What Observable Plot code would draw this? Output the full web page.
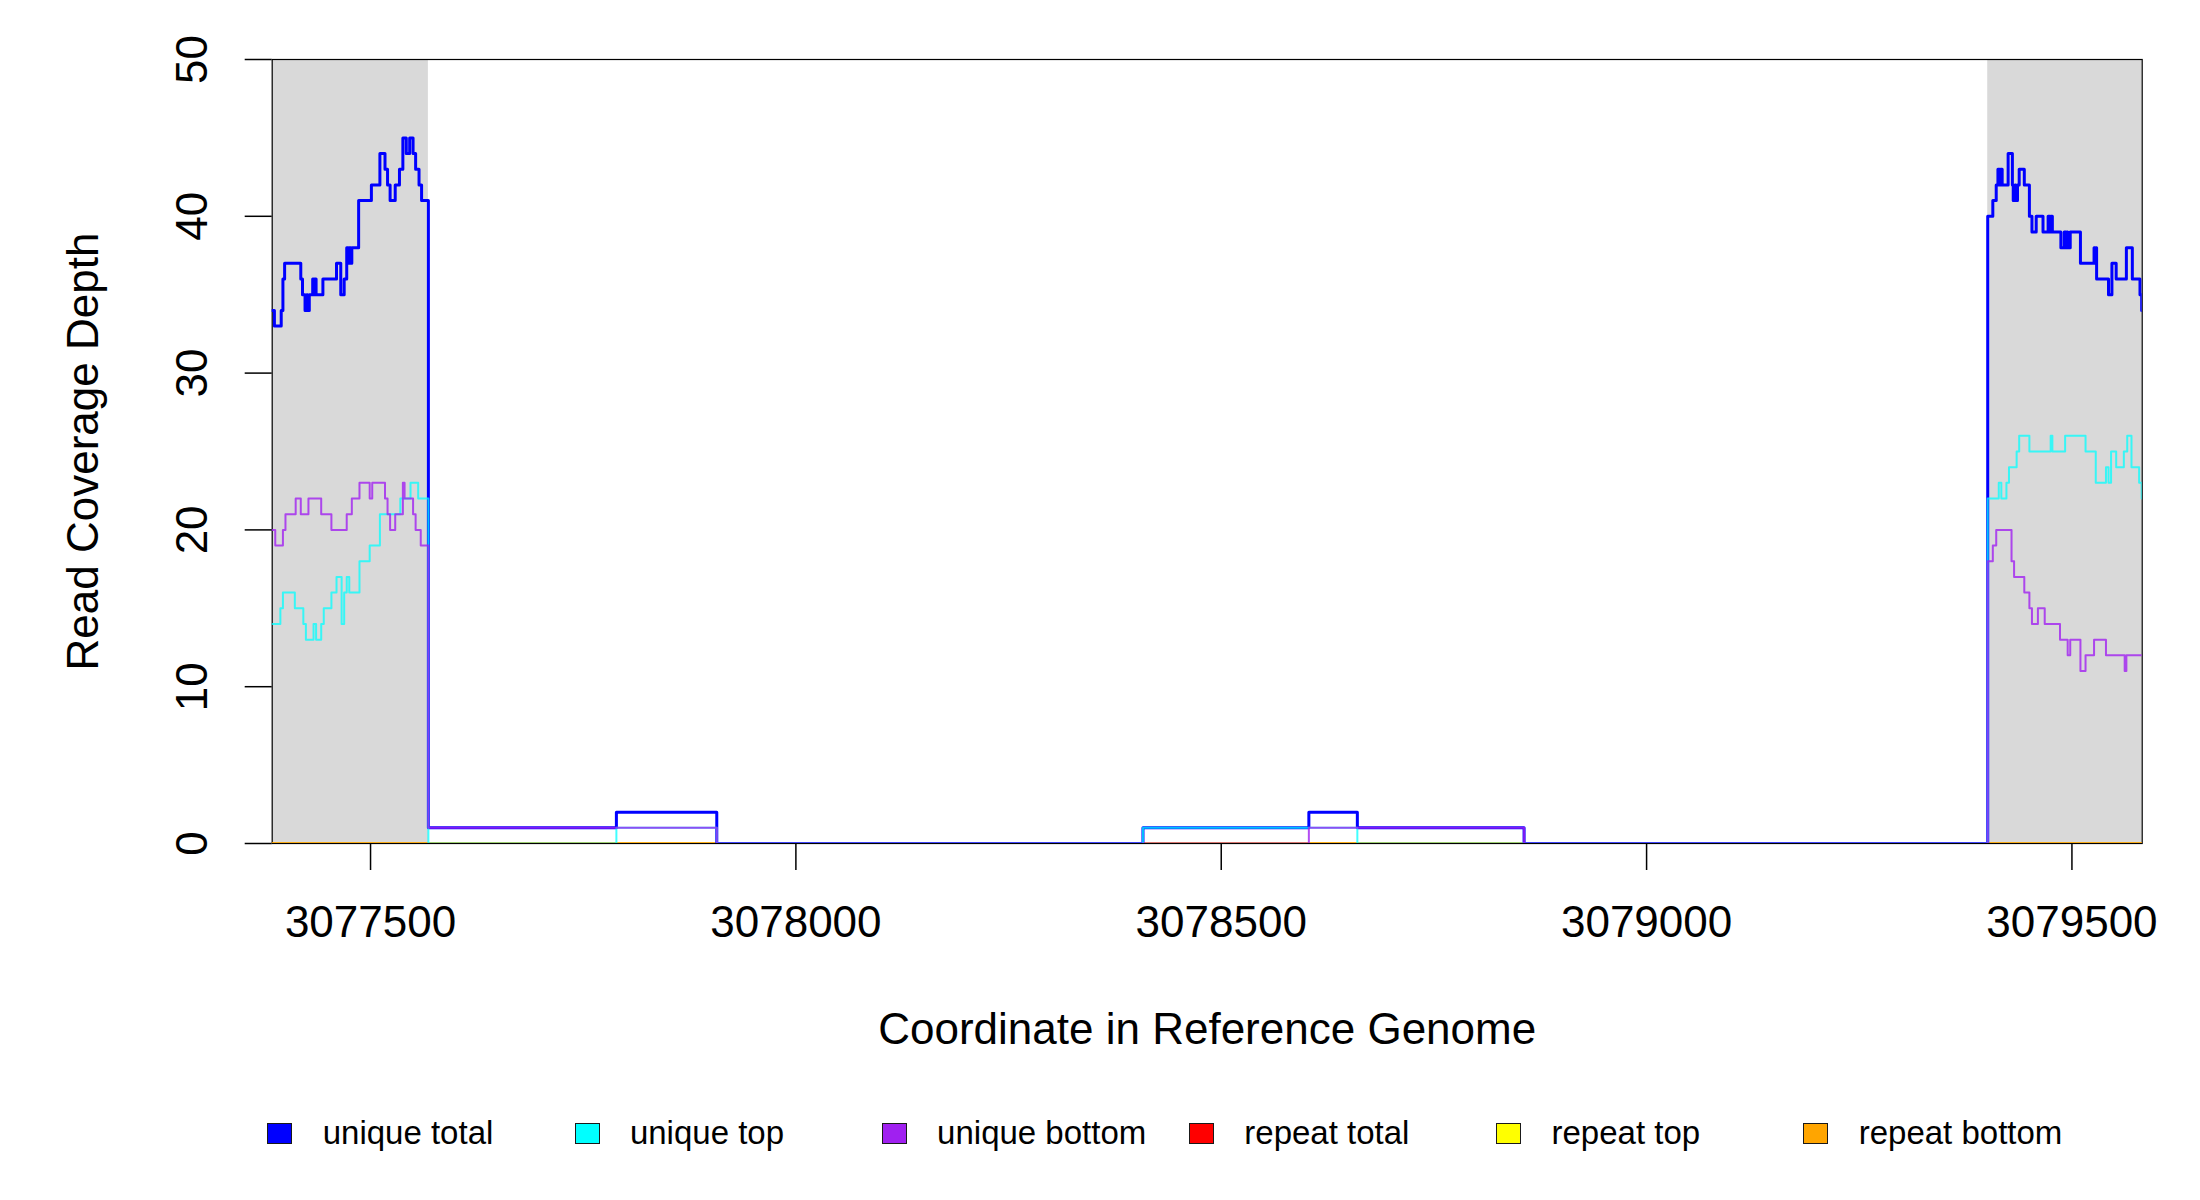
<!DOCTYPE html>
<html><head><meta charset="utf-8">
<script src="https://cdn.jsdelivr.net/npm/d3@7"></script>
<script src="https://cdn.jsdelivr.net/npm/@observablehq/plot@0.6"></script>
<style>
body{margin:0;background:#fff;font-family:"Liberation Sans",Arial,sans-serif;}
#wrap{position:relative;width:2200px;height:1200px;background:#fff;}
.lg-sw{position:absolute;box-sizing:border-box;width:25px;height:21px;border:1.6px solid #1a1a1a;}
.lg-tx{position:absolute;font-size:33px;line-height:33px;color:#000;white-space:nowrap;}
</style></head><body><div id="wrap"></div>
<script>
// ---- axes ----
const xDomain = [3077384.4, 3079582.6];
const yDomain = [0, 50];
const xTicks = [3077500, 3078000, 3078500, 3079000, 3079500];
const yTicks = [0, 10, 20, 30, 40, 50];
const xTitle = "Coordinate in Reference Genome";
const yTitle = "Read Coverage Depth";

// ---- shaded regions ----
const shadeStart = [3077384, 3079401];
const shadeEnd = [3077568, 3079583];

// ---- legend ----
const seriesNames = ["unique total", "unique top", "unique bottom", "repeat total", "repeat top", "repeat bottom"];
const seriesColors = ["#0000FF", "#00FFFF", "#A020F0", "#FF0000", "#FFFF00", "#FFA500"];

// ---- unique total (step change points) ----
const totalPos = [3077384,3077387,3077395,3077397,3077399,3077418,3077420,3077423,3077425,3077426,3077428,3077432,3077433,3077434,3077436,3077444,3077460,3077465,3077469,3077472,3077474,3077475,3077477,3077478,3077486,3077501,3077511,3077517,3077520,3077523,3077529,3077534,3077538,3077542,3077546,3077550,3077553,3077557,3077560,3077568,3077789,3077907,3078408,3078603,3078660,3078856,3079401,3079407,3079411,3079413,3079415,3079416,3079418,3079425,3079430,3079431,3079433,3079434,3079436,3079438,3079444,3079450,3079453,3079458,3079466,3079472,3079474,3079475,3079477,3079487,3079491,3079493,3079494,3079495,3079498,3079510,3079526,3079527,3079528,3079529,3079543,3079547,3079552,3079564,3079571,3079580,3079582,3079583];
const totalVal = [34,33,34,36,37,36,35,34,35,34,35,36,35,36,35,36,37,35,36,38,37,38,37,38,41,42,44,43,42,41,42,43,45,44,45,44,43,42,41,1,2,0,1,2,1,0,40,41,42,43,42,43,42,44,42,41,42,41,42,43,42,40,39,40,39,40,39,40,39,38,39,38,39,38,39,37,38,37,38,36,35,37,36,38,36,35,34,34];

// ---- unique top ----
const topPos = [3077384,3077394,3077397,3077411,3077421,3077424,3077433,3077436,3077442,3077445,3077454,3077460,3077466,3077469,3077472,3077475,3077487,3077499,3077511,3077535,3077547,3077556,3077568,3077789,3077907,3078408,3078660,3079401,3079414,3079417,3079423,3079426,3079435,3079438,3079450,3079475,3079477,3079492,3079516,3079528,3079540,3079543,3079546,3079552,3079561,3079565,3079570,3079579,3079582,3079583];
const topVal = [14,15,16,15,14,13,14,13,14,15,16,17,14,16,17,16,18,19,21,22,23,22,0,1,0,1,0,22,23,22,23,24,25,26,25,26,25,26,25,23,24,23,25,24,25,26,24,23,22,22];

// ---- unique bottom ----
const botPos = [3077384,3077388,3077397,3077400,3077412,3077418,3077427,3077442,3077454,3077472,3077478,3077487,3077499,3077502,3077517,3077520,3077523,3077529,3077538,3077540,3077550,3077553,3077559,3077568,3077907,3078603,3078856,3079401,3079407,3079411,3079429,3079432,3079444,3079450,3079453,3079460,3079468,3079486,3079495,3079498,3079510,3079516,3079526,3079540,3079562,3079564,3079583];
const botVal = [20,19,20,21,22,21,22,21,20,21,22,23,22,23,22,21,20,21,23,22,21,20,19,1,0,1,0,18,19,20,18,17,16,15,14,15,14,13,12,13,11,12,13,12,11,12,12];

// ---- repeat series ----
const repeatPos = [3077384, 3079583];
const repeatTotalVal = [0, 0];
const repeatTopVal = [0, 0];
const repeatBotVal = [0, 0];

const FONT = '"Liberation Sans", Arial, Helvetica, sans-serif';
const toRows = (pos, val) => pos.map((p, i) => ({x: p, y: val[i]}));
const shades = shadeStart.map((s, i) => ({s, e: shadeEnd[i]}));

const lineSpecs = [
  {rows: toRows(repeatPos, repeatTotalVal), color: seriesColors[3], w: 2, o: 1},
  {rows: toRows(repeatPos, repeatTopVal), color: seriesColors[4], w: 2, o: 1},
  {rows: toRows(repeatPos, repeatBotVal), color: seriesColors[5], w: 2, o: 1},
  {rows: toRows(totalPos, totalVal), color: seriesColors[0], w: 3, o: 1},
  {rows: toRows(topPos, topVal), color: seriesColors[1], w: 2, o: 0.75},
  {rows: toRows(botPos, botVal), color: seriesColors[2], w: 2, o: 0.8}
];

const chart = Plot.plot({
  width: 2200,
  height: 1095,
  marginTop: 59,
  marginLeft: 271.7,
  marginRight: 58.3,
  marginBottom: 252,
  x: {domain: xDomain},
  y: {domain: yDomain},
  style: {fontFamily: FONT, fontSize: "44px", background: "white", color: "black", overflow: "visible"},
  marks: [
    Plot.rect(shades, {x1: "s", x2: "e", fill: "#D9D9D9", clip: true}),
    Plot.frame({stroke: "#000", strokeWidth: 1.2}),
    ...lineSpecs.map(s => Plot.line(s.rows, {x: "x", y: "y", curve: "step-after", stroke: s.color, strokeWidth: s.w, strokeOpacity: s.o, clip: true})),
    Plot.axisX({ticks: xTicks, tickSize: 27, tickPadding: 35.5, tickFormat: d => String(d), strokeWidth: 1.5, label: null}),
    Plot.axisY({ticks: yTicks, tickSize: 27, tickPadding: 38.7, tickRotate: -90, strokeWidth: 1.5, label: null}),
    Plot.text([xTitle], {text: d => d, frameAnchor: "bottom", dy: 169.5, lineAnchor: "top", textAnchor: "middle", fontSize: 44}),
    Plot.text([yTitle], {text: d => d, frameAnchor: "left", dx: -188, rotate: -90, lineAnchor: "middle", textAnchor: "middle", fontSize: 44})
  ]
});

const wrap = document.getElementById("wrap");
wrap.appendChild(chart);

// legend below the plot
seriesNames.forEach((name, i) => {
  const left = 267.3 + i * 307.2;
  const sw = document.createElement("div");
  sw.className = "lg-sw";
  sw.style.left = left + "px";
  sw.style.top = "1122.7px";
  sw.style.background = seriesColors[i];
  wrap.appendChild(sw);
  const tx = document.createElement("div");
  tx.className = "lg-tx";
  tx.style.left = (left + 55.4) + "px";
  tx.style.top = "1116px";
  tx.textContent = name;
  wrap.appendChild(tx);
});
</script></body></html>
